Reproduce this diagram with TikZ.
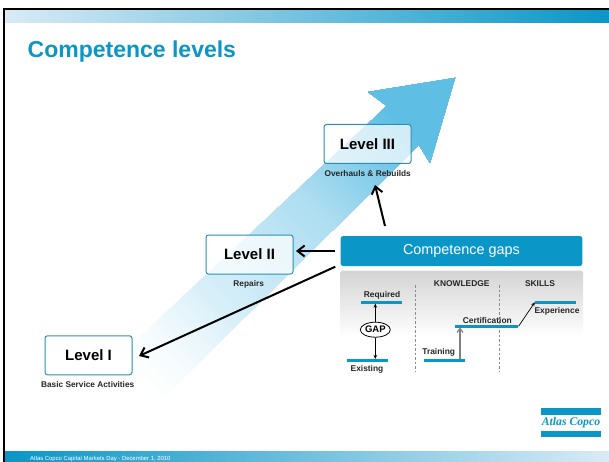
\documentclass[tikz,border=0pt]{standalone}
\usepackage{fontspec}
\setmainfont{Liberation Sans}
\newfontfamily\logofont{Liberation Serif}
\usetikzlibrary{arrows.meta,shapes.geometric}
\definecolor{acblue}{HTML}{0A96C6}
\definecolor{acedge}{HTML}{2A8FB8}
\definecolor{acarrow}{HTML}{5BBDE3}
\definecolor{aclight}{HTML}{D8EBF6}
\newcommand{\fs}[1]{\fontsize{#1}{#1}\selectfont}
\tikzset{
  x=1pt,y=-1pt,
  levelbox/.style={draw=acedge,line width=1pt,rounded corners=2.5pt,fill=white,fill opacity=.72,text opacity=1,minimum width=87pt,minimum height=39pt,inner sep=0pt,font=\fs{15}\bfseries},
  sublabel/.style={inner sep=0pt,font=\fs{8.3}\bfseries,text=black!85},
  small/.style={inner sep=0pt,font=\fs{8.4}\bfseries,text=black!85},
  bar/.style={fill=acblue,minimum height=2.4pt,inner sep=0pt},
  bigarrow/.style={-{Straight Barb[length=7pt,width=11pt]},line width=2pt,black},
  thinarrow/.style={-{Stealth[length=4pt,width=3.5pt]},line width=.7pt,black},
  divider/.style={dashed,dash pattern=on 2.5pt off 2pt,line width=.5pt,black!45},
}
\begin{document}
\begin{tikzpicture}
\useasboundingbox (0,0) rectangle (609,462);
\fill[white] (0,0) rectangle (609,462);
% header and footer bands
\shade[left color=aclight,right color=acblue] (5,10) rectangle (609,23);
\shade[left color=acblue,right color=aclight] (5,451) rectangle (609,462);
\fill[black] (3,8) rectangle (609,10);
\fill[black] (3,8) rectangle (5,462);
% big arrow: a diagonal fade built from overlapping strips
\begin{scope}
\clip (455,78) -- (368,92) -- (387,106) -- (110,365) -- (160,401) -- (419,145) -- (430,163) -- cycle;
\foreach \i in {0,...,92}{
  \pgfmathsetmacro\dd{-215+\i*4}
  \pgfmathsetmacro\tt{100*(\dd<-168 ? 0.06*(\dd+215)/47 : (\dd<-97 ? 0.06+0.19*(\dd+168)/71 : (\dd<35 ? 0.25+0.25*(\dd+97)/132 : (\dd<158 ? 0.5+0.5*(\dd-35)/123 : 1))))}
  \colorlet{stripcol}{acarrow!\tt!white}
  \fill[stripcol]
    ({292+.7071*\dd-353},{235-.7071*\dd-353}) --
    ({292+.7071*\dd+353},{235-.7071*\dd+353}) --
    ({292+170+353},{235-170+353}) --
    ({292+170-353},{235-170-353}) -- cycle;
}
\end{scope}
% title
\node[anchor=west,inner sep=0pt,text=acblue,font=\fs{23}\bfseries] (title) at (27.5,52) {Competence levels};
% levels
\node[levelbox] (l3) at (367.5,144) {Level III};
\node[levelbox] (l2) at (249.5,254.5) {Level II};
\node[levelbox] (l1) at (88.5,355.3) {Level I};
\node[sublabel] (s3) at (367.7,174) {Overhauls \& Rebuilds};
\node[sublabel] (s2) at (248.7,284) {Repairs};
\node[sublabel] (s1) at (87.7,385) {Basic Service Activities};
% competence gaps
\node[fill=acblue,rounded corners=2.5pt,minimum width=241.6pt,minimum height=30pt,inner sep=0pt,text=white,font=\fs{14.4}] (gaps) at (461.5,251) {Competence gaps};
\shade[top color=black!17,bottom color=white,rounded corners=1.5pt] (340.7,270.7) rectangle (583,337);
\draw[divider] (415,285) -- (415,372);
\draw[divider] (499.3,285) -- (499.3,372);
\node[small] (know) at (461.7,284) {KNOWLEDGE};
\node[small] (skills) at (540,284) {SKILLS};
% bars
\node[bar,minimum width=41pt] (req) at (381.5,302.3) {};
\node[bar,minimum width=41pt] (exi) at (367.5,360.3) {};
\node[bar,minimum width=41pt] (tra) at (444.5,360.3) {};
\node[bar,minimum width=63.3pt] (cer) at (486.7,326.3) {};
\node[bar,minimum width=41pt] (exp) at (555.5,302.3) {};
\node[small] at (382,295) (treq) {Required};
\node[small] at (367,369) (texi) {Existing};
\node[small] at (438.7,352.3) (ttra) {Training};
\node[small] at (487.3,320) (tcer) {Certification};
\node[small] at (557,311) (texp) {Experience};
\node[draw=black,line width=.8pt,ellipse,fill=white,minimum width=30pt,minimum height=15pt,inner sep=0pt,font=\fs{9.5}\bfseries] (gap) at (375.3,329.7) {GAP};
\draw[thinarrow] (gap.north) -- (gap.north |- req.south);
\draw[thinarrow] (gap.south) -- (gap.south |- exi.north);
\coordinate (trb) at (460,359);
\coordinate (cet) at (460,327.5);
\draw[-{Straight Barb[length=4pt,width=6pt]},line width=1.2pt,black!50] (trb) -- (cet);
\draw[thinarrow] (cer.east) -- (exp.west);
% leader arrows
\coordinate (g3) at (385,226);
\coordinate (t3) at (375,185);
\coordinate (g2) at (335,251);
\coordinate (t2) at (296,251);
\coordinate (g1) at (335.3,266.7);
\coordinate (t1) at (139,356);
\draw[bigarrow] (g3) -- (t3);
\draw[bigarrow] (g2) -- (t2);
\draw[bigarrow] (g1) -- (t1);
% logo
\fill[acblue] (541,408.3) rectangle (601,415);
\fill[acblue] (541,430.7) rectangle (601,437);
\node[inner sep=0pt,text=acblue,font=\fs{11.7}\logofont\itshape\bfseries] (logo) at (571,423) {Atlas Copco};
% footer
\node[anchor=west,inner sep=0pt,text=white,font=\fs{5.9}] (foot) at (30,458.5) {Atlas Copco Capital Markets Day - December 1, 2010};
\end{tikzpicture}
\end{document}
